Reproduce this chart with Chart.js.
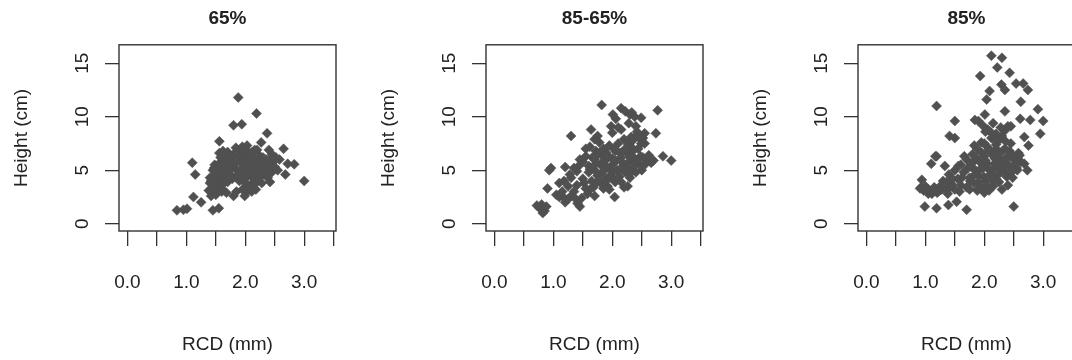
<!DOCTYPE html>
<html>
<head>
<meta charset="utf-8">
<script src="https://cdn.jsdelivr.net/npm/chart.js@4.4.0/dist/chart.umd.min.js"></script>
<style>
  html, body { margin: 0; padding: 0; background: #fff; }
  body { width: 1072px; height: 360px; overflow: hidden; position: relative; }
  .panel { position: absolute; top: 0; width: 368px; height: 360px; }
</style>
</head>
<body>
<div class="panel" style="left:0px"><canvas id="c1" width="368" height="360"></canvas></div>
<div class="panel" style="left:367px"><canvas id="c2" width="368" height="360"></canvas></div>
<div class="panel" style="left:739px"><canvas id="c3" width="368" height="360"></canvas></div>
<script>
// ---------- data ----------
const panelTitles = ["65%", "85-65%", "85%"];
const xTitle = "RCD (mm)";
const yTitle = "Height (cm)";
const yTickValues = [0, 5, 10, 15];

const rcd65 = [1.88,2.19,1.80,1.94,2.37,2.27,1.56,2.65,2.58,2.72,2.83,2.68,3.00,1.10,1.15,1.12,1.25,0.84,0.95,1.01,1.45,1.55,1.80,1.99,2.11,
  1.56,1.62,1.70,1.82,1.95,2.02,2.12,2.20,
  1.58,1.66,1.75,1.88,1.98,2.06,2.15,2.25,2.35,2.45,2.52,
  1.48,1.55,1.63,1.72,1.80,1.90,2.00,2.10,2.20,2.30,2.40,2.48,
  1.45,1.52,1.60,1.70,1.78,1.86,1.95,2.05,2.15,2.25,2.35,2.45,2.38,2.42,
  1.40,1.48,1.56,1.65,1.74,1.84,1.93,2.02,2.12,2.22,2.30,
  1.40,1.47,1.55,1.62,1.70,1.90,2.00,2.10,2.20,
  1.38,1.45,1.52,1.60,1.68,1.85,1.95,2.05,2.12,1.42,1.50,
  1.45,1.50,1.58,1.64,1.68,1.74,1.78,1.82,1.87,1.90,1.96,2.00,2.04,2.08,2.10,2.14,2.18,2.22,2.26,2.30,
  2.34,2.38,2.42,2.50,2.28,2.18,1.60,1.72,1.98,2.06,1.52,1.66,1.94,2.16,2.03,1.84,2.40,2.55,1.42,1.47];
const height65 = [11.8,10.3,9.2,9.3,8.45,7.6,7.7,7.0,6.0,5.6,5.55,4.6,4.0,5.7,4.6,2.5,2.0,1.25,1.3,1.4,1.25,1.45,2.6,2.6,3.0,
  6.6,6.8,6.7,6.6,7.2,6.9,6.7,6.9,
  6.2,6.3,6.1,6.3,6.4,6.2,6.1,6.3,6.0,6.5,6.2,
  5.5,5.6,5.8,5.5,5.7,5.9,5.6,5.8,5.5,5.7,5.4,5.8,
  5.0,4.9,5.1,4.9,5.2,5.0,5.2,4.9,5.1,5.0,5.2,4.8,4.3,3.9,
  4.3,4.5,4.2,4.4,4.6,4.4,4.7,4.4,4.5,4.4,4.6,
  3.8,3.6,3.9,3.7,3.9,4.0,3.8,3.7,3.9,
  3.1,2.9,3.2,3.0,2.9,3.0,3.2,3.1,3.4,2.6,2.7,
  3.4,4.0,4.6,5.3,6.0,5.0,4.2,5.6,6.6,4.9,5.5,6.2,4.6,5.3,6.5,4.2,5.9,4.8,5.4,6.2,
  4.7,5.6,6.1,5.3,3.8,3.2,3.3,4.4,4.1,3.5,4.7,6.5,6.8,6.9,7.3,7.1,6.9,5.0,4.0,5.2];

const rcd8565 = [1.82,2.77,2.15,2.22,2.30,2.38,2.49,2.01,2.06,1.98,1.64,1.30,2.74,2.55,2.49,2.52,2.15,2.32,2.42,2.86,3.00,2.60,2.66,0.96,0.93,0.90,0.76,0.80,0.85,0.88,0.82,0.72,1.10,1.41,1.45,1.70,2.04,2.26,1.20,1.25,1.15,
  1.10,1.18,1.25,1.20,1.30,1.35,1.40,1.45,1.40,1.50,1.50,1.55,1.55,1.60,1.60,1.62,1.65,1.70,1.70,1.72,1.75,1.78,1.80,1.80,1.82,1.85,1.85,1.88,1.90,1.90,1.92,1.95,1.95,1.98,2.00,2.02,2.05,2.05,2.08,2.10,2.12,2.15,2.18,2.20,2.20,2.22,2.25,2.28,2.30,2.32,2.35,2.38,2.40,2.42,2.45,2.48,2.50,2.55,2.58,2.35,1.68,1.58,1.48,1.30,1.75,2.00,2.10,2.28,1.88,2.00,1.95,
  1.62,1.66,1.72,1.76,1.80,1.84,1.86,1.90,1.93,1.96,2.00,2.03,2.06,2.10,2.13,2.16,2.20,2.24,2.27,2.30,2.35,2.38,2.44,2.52,2.46,2.55,2.40,2.33,1.70,1.55,1.45,1.35,1.28,1.15,1.05,1.38,1.52,1.62,1.74,1.85,2.15,2.30,2.62,2.70];
const height8565 = [11.1,10.6,10.8,10.5,10.2,10.0,9.9,10.2,9.8,9.1,8.8,8.2,8.45,8.45,7.5,8.0,8.8,8.1,8.3,6.3,5.9,6.0,5.7,5.2,5.0,3.3,1.5,1.8,1.2,1.6,1.0,1.7,2.5,1.9,1.6,2.6,2.5,3.5,2.0,2.3,2.6,
  3.8,4.0,3.5,5.3,4.3,3.0,4.9,5.5,3.6,4.2,5.8,3.3,6.3,4.8,5.4,7.2,4.0,6.0,5.0,6.8,4.5,7.6,5.5,3.8,6.4,4.9,7.0,5.9,4.2,6.6,3.5,5.2,7.3,4.6,6.1,5.6,3.9,6.8,5.0,7.5,4.4,6.2,5.4,3.4,7.9,4.8,6.6,5.8,4.3,7.2,5.2,6.1,4.8,8.6,5.6,6.3,5.0,5.5,6.0,7.8,3.4,2.8,2.4,2.6,8.2,8.5,9.0,9.4,4.0,4.3,3.2,
  5.1,6.2,5.6,6.5,4.6,5.8,6.9,5.3,6.3,4.3,5.0,7.0,5.9,4.9,6.6,5.8,6.9,5.2,7.4,6.2,6.8,5.6,7.0,6.2,8.0,7.5,9.1,10.4,7.9,7.0,6.0,5.2,4.6,3.0,2.7,2.3,3.8,3.2,3.9,3.3,3.9,4.7,6.4,5.9];

const rcd85 = [2.12,2.30,2.22,2.43,1.93,2.29,2.35,2.54,2.66,2.74,2.09,2.04,1.19,2.62,2.35,2.91,1.50,1.84,2.01,2.06,2.61,2.78,3.00,2.40,2.95,1.41,1.50,2.68,2.75,1.19,1.10,1.33,2.73,0.94,0.91,1.05,0.99,1.19,1.39,1.53,1.70,2.50,0.97,1.11,1.24,1.17,
  1.30,1.35,1.40,1.45,1.50,1.50,1.55,1.60,1.60,1.65,1.70,1.70,1.75,1.78,1.80,1.82,1.85,1.88,1.90,1.92,1.95,1.95,1.98,2.00,2.02,2.05,2.05,2.10,2.10,2.12,2.15,2.18,2.20,2.20,2.22,2.25,2.28,2.30,2.32,2.35,2.38,2.40,2.42,2.45,2.50,2.55,2.58,2.62,2.68,2.40,2.30,2.15,2.00,1.88,1.25,1.20,1.15,1.10,1.05,1.38,2.35,2.45,2.25,1.90,1.97,2.02,
  1.72,1.76,1.80,1.84,1.86,1.90,1.93,1.96,1.99,2.02,2.04,2.07,2.09,2.12,2.14,2.17,2.20,2.23,2.26,2.28,2.31,2.34,2.36,2.39,2.43,2.46,2.48,2.52,2.56,2.60,
  2.36,2.18,2.00,1.83,1.66,1.62,1.56,1.46,1.36,1.28,1.18,1.00,0.93,1.42,1.58,1.75,1.90,2.08,2.25,2.48,2.56,2.20,2.28,2.15,2.10];
const height85 = [15.7,15.5,14.6,14.1,13.8,13.0,12.5,13.1,13.1,12.5,12.4,11.6,11.0,11.4,10.5,10.7,9.6,9.7,10.2,8.8,9.8,9.7,9.6,9.1,8.4,8.2,8.0,8.1,7.3,6.3,5.6,5.4,5.0,4.1,3.3,2.8,1.6,1.45,1.75,2.05,1.3,1.6,3.1,2.8,3.1,6.3,
  4.0,3.3,4.6,3.7,5.0,3.2,4.2,5.5,3.6,4.8,6.0,3.4,4.3,5.3,6.5,3.8,5.0,7.0,4.5,5.8,3.4,7.6,5.2,6.3,4.0,7.2,5.6,4.6,6.8,8.0,5.1,6.1,4.2,7.4,5.5,6.6,4.8,8.2,5.9,7.0,4.4,6.3,5.4,7.5,6.0,5.2,6.6,5.8,5.6,3.6,3.2,3.5,2.9,3.1,3.5,2.9,3.4,3.0,3.2,2.8,8.7,9.1,7.8,9.6,9.2,8.6,
  5.2,4.0,5.7,4.6,6.2,3.9,5.1,6.6,4.4,5.9,3.6,6.9,5.0,4.1,6.4,5.6,7.0,4.6,6.1,5.3,6.8,4.9,6.0,5.6,6.8,4.8,6.4,5.5,6.1,6.4,
  7.7,7.8,7.5,7.3,6.3,4.3,5.4,4.2,3.9,3.2,3.2,3.5,3.4,3.4,3.0,3.2,3.3,3.1,3.9,4.3,5.0,8.4,9.0,9.4,8.6];

const panels = [
  { id: "c1", title: panelTitles[0], xs: rcd65, ys: height65 },
  { id: "c2", title: panelTitles[1], xs: rcd8565, ys: height8565 },
  { id: "c3", title: panelTitles[2], xs: rcd85, ys: height85 }
];

// ---------- style ----------
const FONT = "'Liberation Sans', Arial, Helvetica, sans-serif";
const TEXT = "#222222";
const LINE = "#333333";
const PT = "#505050";

const boxPlugin = {
  id: "box",
  afterDatasetsDraw(chart) {
    const a = chart.chartArea, ctx = chart.ctx;
    ctx.save();
    ctx.strokeStyle = LINE;
    ctx.lineWidth = 1.4;
    ctx.strokeRect(a.left, a.top, a.right - a.left, a.bottom - a.top);
    ctx.restore();
  }
};

panels.forEach(p => {
  const pts = p.xs.map((x, i) => ({ x: x, y: p.ys[i] }));
  new Chart(document.getElementById(p.id), {
    type: "scatter",
    data: { datasets: [{
      data: pts,
      pointStyle: "rectRot",
      pointRadius: 5,
      backgroundColor: PT,
      borderColor: PT,
      borderWidth: 0.5
    }]},
    plugins: [boxPlugin],
    options: {
      responsive: false,
      animation: false,
      devicePixelRatio: 1,
      events: [],
      layout: { padding: { left: 0, right: 32, top: 0, bottom: 0 } },
      plugins: {
        legend: { display: false },
        tooltip: { enabled: false },
        title: {
          display: true,
          text: p.title,
          align: "center",
          fullSize: false,
          color: TEXT,
          font: { family: FONT, size: 19, weight: "bold", lineHeight: 1.2 },
          padding: { top: 7, bottom: 15 }
        }
      },
      scales: {
        x: {
          type: "linear",
          min: -0.144,
          max: 3.54,
          afterFit: s => { s.height = 129; },
          border: { display: false },
          grid: { drawOnChartArea: false, drawTicks: true, tickLength: 15, color: LINE, lineWidth: 1.3 },
          ticks: {
            stepSize: 0.5,
            includeBounds: false,
            autoSkip: false,
            maxRotation: 0,
            minRotation: 0,
            padding: 25,
            color: TEXT,
            font: { family: FONT, size: 19, lineHeight: 1.2 },
            callback: v => Math.abs(v - Math.round(v)) < 1e-6 ? v.toFixed(1) : ""
          },
          title: {
            display: true,
            text: xTitle,
            color: TEXT,
            font: { family: FONT, size: 19, lineHeight: 1.2 },
            padding: { top: 0, bottom: 3.6 }
          }
        },
        y: {
          type: "linear",
          min: -0.68,
          max: 16.72,
          afterFit: s => { s.width = 119; },
          afterBuildTicks: s => { s.ticks = yTickValues.map(v => ({ value: v })); },
          border: { display: false },
          grid: { drawOnChartArea: false, drawTicks: true, tickLength: 14, color: LINE, lineWidth: 1.3 },
          ticks: {
            autoSkip: false,
            minRotation: 90,
            maxRotation: 90,
            crossAlign: "center",
            padding: 12,
            color: TEXT,
            font: { family: FONT, size: 19, lineHeight: 1.2 },
            callback: v => String(v)
          },
          title: {
            display: true,
            text: yTitle,
            color: TEXT,
            font: { family: FONT, size: 19, lineHeight: 1.2 },
            padding: { top: 10.6, bottom: 0 }
          }
        }
      }
    }
  });
});
</script>
</body>
</html>
